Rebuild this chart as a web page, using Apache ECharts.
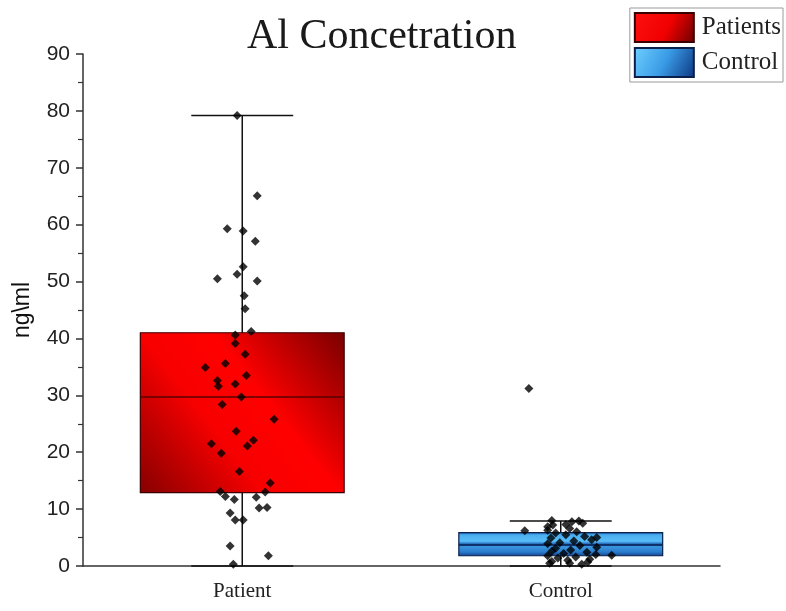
<!DOCTYPE html>
<html>
<head>
<meta charset="utf-8">
<script src="https://cdn.jsdelivr.net/npm/echarts@6/dist/echarts.min.js"></script>
<style>
  html, body { margin: 0; padding: 0; background: #fff; }
  #chart { width: 786px; height: 611px; }
</style>
</head>
<body>
<div id="chart"></div>
<script>
// Group labels on the x axis and names shown in the legend
const categories = ['Patient', 'Control'];
const groupNames = ['Patients', 'Control'];

// Box summaries: [lower whisker, Q1, median, Q3, upper whisker] in ng/ml
const patientBox = [0, 12.9, 29.7, 41.0, 79.2];
const controlBox = [0, 1.8, 3.7, 5.85, 7.9];

// Individual measurements (ng/ml) with their horizontal jitter (in category units)
const patientValues = [79.2, 65.1, 59.3, 58.9, 57.1, 52.6, 51.3, 50.5, 50.1, 47.5,
  45.2, 41.2, 40.6, 39.1, 37.2, 35.6, 34.9, 33.5, 32.6, 31.6,
  32.0, 29.7, 28.4, 25.8, 23.7, 21.5, 22.1, 21.1, 19.8, 16.6,
  14.6, 13.1, 13.0, 12.2, 11.7, 12.1, 10.3, 10.2, 9.3, 8.1,
  8.1, 3.5, 1.8, 0.3];
const patientJitter = [-0.016, 0.047, -0.047, 0.003, 0.041, 0.003, -0.016, -0.078, 0.047, 0.006,
  0.009, 0.028, -0.022, -0.022, 0.009, -0.053, -0.116, 0.013, -0.078, -0.075,
  -0.022, -0.003, -0.063, 0.100, -0.019, -0.097, 0.035, 0.016, -0.066, -0.009,
  0.088, -0.069, 0.072, -0.053, -0.025, 0.044, 0.078, 0.053, -0.038, -0.022,
  0.003, -0.038, 0.082, -0.028];

const controlValues = [31.2, 8.0, 7.8, 7.9, 7.5, 7.2, 6.9, 6.6, 6.3, 6.2,
  6.0, 5.8, 5.5, 5.2, 4.9, 4.6, 4.4, 4.1, 3.9, 3.6,
  3.3, 3.1, 2.8, 2.6, 2.4, 2.2, 1.9, 1.8, 1.6, 1.4,
  1.2, 1.0, 0.8, 0.7, 0.5, 0.5, 0.3, 2.0, 5.0, 7.3];
const controlJitter = [-0.100, -0.028, 0.035, 0.057, 0.069, -0.025, -0.041, 0.028, -0.041, -0.113,
  0.050, -0.016, 0.016, 0.075, -0.031, 0.097, 0.041, -0.003, -0.041, 0.060,
  0.113, -0.016, 0.031, -0.028, 0.082, 0.009, 0.160, -0.041, 0.047, -0.009,
  0.091, 0.022, -0.028, 0.085, -0.035, 0.028, 0.066, 0.110, 0.113, 0.016];

// Value axis range
const yMin = 0, yMax = 90, yStep = 10;

const redFill = {
  type: 'linear', x: 1, y: 0, x2: 0, y2: 1,
  colorStops: [
    { offset: 0, color: '#780000' },
    { offset: 0.4, color: '#ff0000' },
    { offset: 0.62, color: '#f80000' },
    { offset: 1, color: '#850000' }
  ]
};
const blueFill = {
  type: 'linear', x: 0, y: 0, x2: 0, y2: 1,
  colorStops: [
    { offset: 0, color: '#1d5fae' },
    { offset: 0.12, color: '#4aaef0' },
    { offset: 0.38, color: '#58bdf8' },
    { offset: 0.5, color: '#1c5cb0' },
    { offset: 0.6, color: '#3995df' },
    { offset: 0.82, color: '#2a7ccd' },
    { offset: 1, color: '#0f3d88' }
  ]
};
const legendRed = {
  type: 'linear', x: 0, y: 0, x2: 1, y2: 1,
  colorStops: [
    { offset: 0, color: '#ff1010' },
    { offset: 0.55, color: '#f00000' },
    { offset: 1, color: '#6a0000' }
  ]
};
const legendBlue = {
  type: 'linear', x: 0, y: 0, x2: 1, y2: 1,
  colorStops: [
    { offset: 0, color: '#6fd0ff' },
    { offset: 0.5, color: '#3a9be6' },
    { offset: 1, color: '#0c3580' }
  ]
};

// Draws one box with half-width whisker caps
function boxRenderer(fill, edge, medianColor) {
  return function (params, api) {
    const c = api.value(0);
    const lo = api.coord([c, api.value(1)]);
    const q1 = api.coord([c, api.value(2)]);
    const md = api.coord([c, api.value(3)]);
    const q3 = api.coord([c, api.value(4)]);
    const hi = api.coord([c, api.value(5)]);
    const band = api.size([1, 0])[0];
    const bw = band * 0.64;
    const cw = band * 0.32;
    const x = lo[0];
    const line = { stroke: '#111', lineWidth: 1.5 };
    return {
      type: 'group',
      children: [
        { type: 'line', shape: { x1: x, y1: hi[1], x2: x, y2: lo[1] }, style: line },
        { type: 'line', shape: { x1: x - cw / 2, y1: hi[1], x2: x + cw / 2, y2: hi[1] }, style: line },
        { type: 'line', shape: { x1: x - cw / 2, y1: lo[1], x2: x + cw / 2, y2: lo[1] }, style: line },
        { type: 'rect', shape: { x: x - bw / 2, y: q3[1], width: bw, height: q1[1] - q3[1] },
          style: { fill: fill, stroke: edge, lineWidth: 1.2 } },
        { type: 'line', shape: { x1: x - bw / 2, y1: md[1], x2: x + bw / 2, y2: md[1] },
          style: { stroke: medianColor, lineWidth: 1.5 } }
      ]
    };
  };
}

const chart = echarts.init(document.getElementById('chart'), null, { renderer: 'canvas' });

const option = {
  backgroundColor: '#ffffff',
  animation: false,
  title: {
    text: 'Al Concetration',
    left: 242,
    top: 11,
    textStyle: { fontFamily: 'Liberation Serif', fontSize: 42, fontWeight: 'normal', color: '#1a1a1a' }
  },
  legend: {
    data: groupNames,
    orient: 'vertical',
    right: 3,
    top: 8,
    icon: 'rect',
    itemWidth: 59,
    itemHeight: 29,
    itemGap: 4,
    padding: [4, 2, 4, 4],
    borderColor: '#9a9a9a',
    borderWidth: 1,
    backgroundColor: '#fff',
    textStyle: { fontFamily: 'Liberation Serif', fontSize: 25, lineHeight: 29, color: '#222', padding: [0, 0, 0, 3] }
  },
  grid: { left: 83, right: 66, top: 54, bottom: 45, containLabel: false },
  xAxis: [
    {
      type: 'category',
      data: categories,
      boundaryGap: true,
      axisLine: { lineStyle: { color: '#333', width: 1.5 } },
      axisTick: { alignWithLabel: true, length: 10, lineStyle: { color: '#333', width: 1.5 } },
      axisLabel: { fontFamily: 'Liberation Serif', fontSize: 21, color: '#222', margin: 15 },
      splitLine: { show: false }
    },
    {
      type: 'value',
      min: -0.5,
      max: 1.5,
      show: false
    }
  ],
  yAxis: {
    type: 'value',
    min: yMin,
    max: yMax,
    interval: yStep,
    name: 'ng\\ml',
    nameLocation: 'middle',
    nameRotate: 90,
    nameGap: 49,
    nameTextStyle: { fontFamily: 'Liberation Sans', fontSize: 23, color: '#111' },
    axisLine: { show: true, onZero: false, lineStyle: { color: '#333', width: 1.5 } },
    axisTick: { show: true, length: 7, lineStyle: { color: '#333', width: 1.5 } },
    minorTick: { show: true, splitNumber: 2, length: 5, lineStyle: { color: '#333', width: 1.2 } },
    axisLabel: { fontFamily: 'Liberation Sans', fontSize: 21, color: '#222', margin: 13 },
    splitLine: { show: false }
  },
  series: [
    {
      name: groupNames[0],
      type: 'custom',
      xAxisIndex: 0,
      itemStyle: { color: legendRed, borderColor: '#3a0000', borderWidth: 1 },
      renderItem: boxRenderer(redFill, '#3a0000', '#5a0000'),
      encode: { x: 0, y: [1, 2, 3, 4, 5] },
      data: [[0].concat(patientBox)],
      z: 2
    },
    {
      name: groupNames[1],
      type: 'custom',
      xAxisIndex: 0,
      itemStyle: { color: legendBlue, borderColor: '#0a1f4a', borderWidth: 1 },
      renderItem: boxRenderer(blueFill, '#0a1f4a', '#0a2050'),
      encode: { x: 0, y: [1, 2, 3, 4, 5] },
      data: [[1].concat(controlBox)],
      z: 2
    },
    {
      type: 'scatter',
      xAxisIndex: 1,
      symbol: 'diamond',
      symbolSize: 9,
      itemStyle: { color: '#000' },
      data: patientValues.map((v, i) => [0 + patientJitter[i], v]),
      z: 5
    },
    {
      type: 'scatter',
      xAxisIndex: 1,
      symbol: 'diamond',
      symbolSize: 9,
      itemStyle: { color: '#000' },
      data: controlValues.map((v, i) => [1 + controlJitter[i], v]),
      z: 5
    }
  ]
};

chart.setOption(option);
</script>
</body>
</html>
